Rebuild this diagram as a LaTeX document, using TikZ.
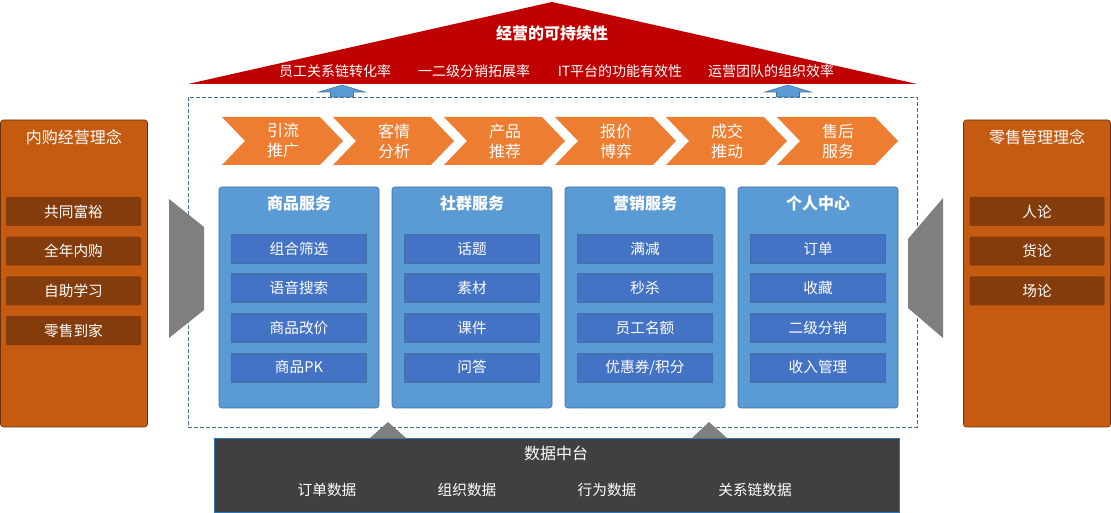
\documentclass[tikz,border=0pt]{standalone}
\usepackage{fontspec}
\setmainfont{Noto Sans CJK SC}
\usetikzlibrary{positioning, calc}

\definecolor{roofred}{HTML}{C00000}
\definecolor{arrowblue}{HTML}{5B9BD5}
\definecolor{lineblue}{HTML}{41719C}
\definecolor{itemblue}{HTML}{4472C4}
\definecolor{stageorange}{HTML}{ED7D31}
\definecolor{panelorange}{HTML}{C55A11}
\definecolor{panelbrown}{HTML}{843C0C}
\definecolor{shadegray}{HTML}{7F7F7F}
\definecolor{datagray}{HTML}{404040}
\definecolor{databorder}{HTML}{2E75B6}

\tikzset{
  txt/.style={text=white, inner sep=0pt, font=\fontsize{#1}{15}\selectfont},
  rooftitle/.style={txt=12, font=\fontsize{12}{15}\selectfont\bfseries},
  uparrow/.style={fill=arrowblue, draw=lineblue, line width=0.4pt},
  frame/.style={draw=lineblue, line width=0.6pt, dash pattern=on 3pt off 1.5pt},
  chevron/.style={fill=stageorange},
  stagetext/.style={txt=12, align=center},
  colbox/.style={draw=lineblue, fill=arrowblue, rounded corners=2pt, minimum width=120pt, minimum height=165.75pt},
  coltitle/.style={txt=12, font=\fontsize{12}{15}\selectfont\bfseries},
  colitem/.style={txt=11, draw=lineblue, fill=itemblue, minimum width=101.25pt, minimum height=21.75pt},
  sidepanel/.style={draw=panelbrown!80!black, fill=panelorange, rounded corners=2pt, minimum width=110.25pt, minimum height=230.25pt},
  sideitem/.style={txt=11, fill=panelbrown, rounded corners=1pt, minimum width=101.25pt, minimum height=21.75pt},
  shade/.style={fill=shadegray},
  databox/.style={draw=databorder, fill=datagray, minimum width=513.75pt, minimum height=55.5pt},
}

\begin{document}
\begin{tikzpicture}[x=0.75pt, y=-0.75pt]
\useasboundingbox (0,0) rectangle (1111,513);

% roof
\fill[roofred] (188,84) -- (552,2) -- (917,84) -- cycle;
\node[rooftitle] (roof) at (552,33) {经营的可持续性};
\foreach \x/\t [count=\k] in {335/员工关系链转化率, 474/一二级分销拓展率, 620/IT平台的功能有效性, 771/运营团队的组织效率}
  \node[txt=10.5] (roof-\k) at (\x,71) {\t};

% arrows up to the roof
\foreach \x in {342,788}
  \draw[uparrow] (\x,85) -- ++(23,7) -- ++(-11.5,0) -- ++(0,5) -- ++(-23,0) -- ++(0,-5) -- ++(-11.5,0) -- cycle;

% frame
\draw[frame] (188,97) rectangle (917,427);

% stages
\foreach \t [count=\k from 0] in {{引流\\推广}, {客情\\分析}, {产品\\推荐}, {报价\\博弈}, {成交\\推动}, {售后\\服务}}
{
  \pgfmathsetmacro\xa{222+111*\k}
  \fill[chevron] (\xa,117) -- ++(98,0) -- ++(23,24) -- ++(-23,24) -- ++(-98,0) -- ++(23,-24) -- cycle;
  \node[stagetext] (stage-\k) at (\xa+61,141) {\t};
}

% service columns
\foreach \t/\items [count=\k from 0] in {商品服务/{组合筛选,语音搜索,商品改价,商品PK}, 社群服务/{话题,素材,课件,问答}, 营销服务/{满减,秒杀,员工名额,优惠券/积分}, 个人中心/{订单,收藏,二级分销,收入管理}}
{
  \pgfmathsetmacro\xc{299+173*\k}
  \node[colbox] (col-\k) at (\xc,297.5) {};
  \node[coltitle] (col-\k-t) at (\xc,203) {\t};
  \foreach \it [count=\j from 0] in \items
    \node[colitem] (col-\k-\j) at (\xc,248.5+39.6*\j) {\it};
}

% side panels
\node[sidepanel] (left) at (74,273.5) {};
\node[txt=12] (left-t) at (74,137) {内购经营理念};
\foreach \it [count=\j from 0] in {共同富裕,全年内购,自助学习,零售到家}
  \node[sideitem] (left-\j) at (73.5,211.5+39.7*\j) {\it};

\node[sidepanel] (right) at (1037,273.5) {};
\node[txt=12] (right-t) at (1037,137) {零售管理理念};
\foreach \it [count=\j from 0] in {人论,货论,场论}
  \node[sideitem] (right-\j) at (1037,211.5+39.7*\j) {\it};

% gray wedges
\fill[shade] (169,199) -- (204,227) -- (204,310) -- (169,338) -- cycle;
\fill[shade] (943,198) -- (908,239) -- (908,308) -- (943,338) -- cycle;
\fill[shade] (370,438) -- (388,422) -- (406,438) -- cycle;
\fill[shade] (692,438) -- (709,422) -- (727,438) -- cycle;

% data platform
\node[databox] (data) at (556.5,475) {};
\node[txt=12] (data-t) at (556,453) {数据中台};
\foreach \x/\t [count=\k] in {327/订单数据, 467/组织数据, 607/行为数据, 755/关系链数据}
  \node[txt=11] (data-\k) at (\x,490) {\t};

\end{tikzpicture}
\end{document}
